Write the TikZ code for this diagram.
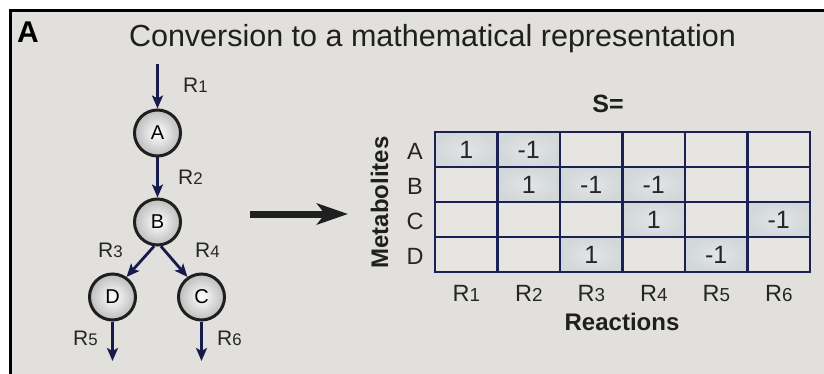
\documentclass[tikz,border=0pt]{standalone}
\usepackage{fontspec}
\setmainfont{Liberation Sans}
\usetikzlibrary{arrows.meta,positioning,calc}
\definecolor{panelgray}{HTML}{E1E0DC}
\definecolor{rxnnavy}{HTML}{161B4C}
\definecolor{gridnavy}{HTML}{1B2152}
\definecolor{cellempty}{HTML}{E6E5E2}
\definecolor{cellgray}{HTML}{D2D7DA}
\definecolor{celllight}{HTML}{E2E5E6}
\newcommand{\rx}[1]{R\scalebox{0.8}{#1}}

\begin{document}
\begin{tikzpicture}[
  x=1pt, y=-1pt,
  metab/.style={
    circle,
    draw=black!88,
    line width=3pt,
    minimum size=46pt,
    inner sep=0pt,
    inner color=white,
    outer color=black!26,
    font=\fontsize{20}{20}\selectfont
  },
  rxn/.style={-{Stealth[length=13pt,width=11pt,inset=3pt]}, line width=2.8pt, draw=rxnnavy},
  rlabel/.style={font=\fontsize{21}{21}\selectfont, text=black!85, inner sep=0pt, anchor=base west},
  axislabel/.style={font=\fontsize{23.5}{23.5}\selectfont, text=black!85, inner sep=0pt, anchor=base},
  heading/.style={font=\bfseries\fontsize{24}{24}\selectfont, text=black!88, inner sep=0pt, anchor=base},
  cell/.style={
    rectangle,
    draw=gridnavy,
    line width=2.4pt,
    minimum width=62.5pt,
    minimum height=35pt,
    inner sep=0pt,
    fill=cellempty,
    font=\fontsize{25}{25}\selectfont,
    text=black!85
  },
  entry/.style={inner color=celllight, outer color=cellgray},
  bigarrow/.style={-{Stealth[length=31pt,width=21pt,inset=8pt]}, line width=7pt, draw=black!88}
]

% panel
\useasboundingbox (0,0) rectangle (824,374);
\fill[panelgray] (9,9) rectangle (824,374);
\draw[line width=3.5pt] (10.7,374) -- (10.7,10.7) -- (824,10.7);

\node[font=\bfseries\fontsize{30}{30}\selectfont, inner sep=0pt, anchor=base west] (panel) at (17,43) {A};
\node[font=\fontsize{30.5}{30.5}\selectfont, text=black!88, inner sep=0pt, anchor=base] (title) at (432.5,47)
  {Conversion to a mathematical representation};

% network
\node[metab] (metA) at (157.5,133) {A};
\node[metab] (metB) at (157.5,222) {B};
\node[metab] (metD) at (112.5,297) {D};
\node[metab] (metC) at (201.5,297) {C};

\coordinate (inR1) at (157.5,64);
\coordinate (outR5) at (112.5,361);
\coordinate (outR6) at (201.5,361);

\draw[rxn] (inR1) -- (metA);
\draw[rxn] (metA) -- (metB);
\draw[rxn] (metB.262) -- (metD.55);
\draw[rxn] (metB.278) -- (metC.125);
\draw[rxn] (metD) -- (outR5);
\draw[rxn] (metC) -- (outR6);

\node[rlabel] (labR1) at (183,93) {\rx{1}};
\node[rlabel] (labR2) at (178,185) {\rx{2}};
\node[rlabel] (labR3) at (98,257) {\rx{3}};
\node[rlabel] (labR4) at (195,257) {\rx{4}};
\node[rlabel] (labR5) at (73,345) {\rx{5}};
\node[rlabel] (labR6) at (217,345) {\rx{6}};

% conversion arrow
\coordinate (convfrom) at (250,214);
\coordinate (convto) at (348,214);
\draw[bigarrow] (convfrom) -- (convto);

% stoichiometric matrix
\node[font=\bfseries\fontsize{25}{25}\selectfont, text=black!88, inner sep=0pt, anchor=base] (Sname) at (608,113) {S=};

\foreach \row [count=\r] in {{1,-1,0,0,0,0},{0,1,-1,-1,0,0},{0,0,0,1,0,-1},{0,0,1,0,-1,0}} {
  \foreach \v [count=\c] in \row {
    \ifnum\v=0
      \node[cell] (s\r\c) at ({435+62.5*(\c-0.5)},{132+35*(\r-0.5)}) {};
    \else
      \node[cell, entry] (s\r\c) at ({435+62.5*(\c-0.5)},{132+35*(\r-0.5)}) {\v};
    \fi
  }
}

\foreach \m [count=\r] in {A,B,C,D}
  \node[axislabel] (row\m) at (415,{132+35*(\r-0.5)+10}) {\m};
\foreach \c in {1,...,6}
  \node[axislabel] (col\c) at ({435+62.5*(\c-0.5)},301.5) {\rx{\c}};

\node[heading] (reactions) at (622,330) {Reactions};
\node[heading, rotate=90] (metabolites) at (388,202.5) {Metabolites};

\end{tikzpicture}
\end{document}
